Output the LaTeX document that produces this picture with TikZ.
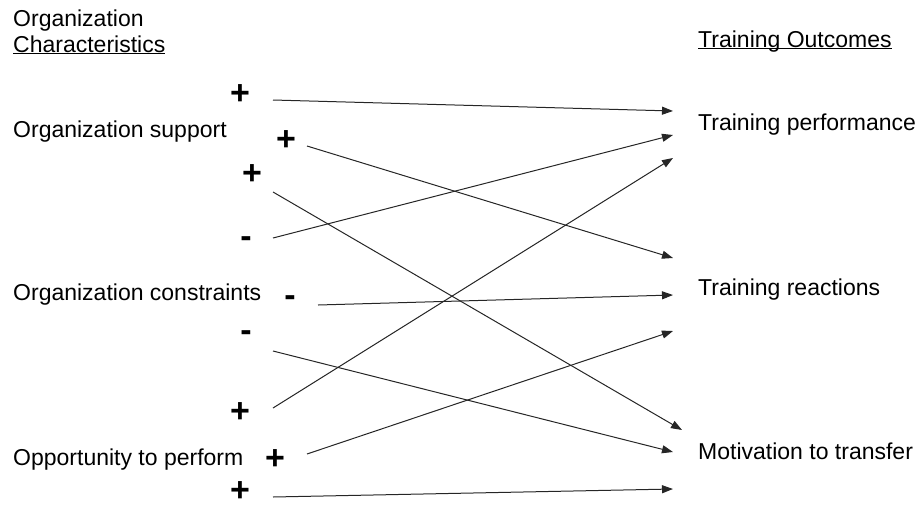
\documentclass[tikz,border=0pt]{standalone}
\usepackage{fontspec}
\setmainfont{Liberation Sans}
\usetikzlibrary{arrows.meta}
\providecommand{\uline}[1]{\underline{\smash{#1}}}

\begin{document}
\begin{tikzpicture}[
  x=1pt, y=-1pt,
  font=\fontsize{23}{26}\selectfont,
  lbl/.style={inner sep=0pt, anchor=base west, align=left},
  sign/.style={inner sep=0pt, font=\fontsize{34}{34}\selectfont\bfseries},
  flow/.style={-{Triangle[length=11pt, width=8pt]}, line width=1pt, black!85},
]
\useasboundingbox (0,0) rectangle (916,507);

% ---- headings -----------------------------------------------------------
\node[lbl] (orghead) at (13, 52) {Organization\\\uline{Characteristics}};
\node[lbl] (outhead) at (698, 47) {\uline{Training Outcomes}};

% ---- organization characteristics ---------------------------------------
\node[lbl] (support)     at (13, 137) {Organization support};
\node[lbl] (constraints) at (13, 300) {Organization constraints};
\node[lbl] (opportunity) at (13, 465) {Opportunity to perform};

% ---- training outcomes --------------------------------------------------
\node[lbl] (performance) at (698, 130) {Training performance};
\node[lbl] (reactions)   at (698, 295) {Training reactions};
\node[lbl] (motivation)  at (698, 459) {Motivation to transfer};

% ---- signs --------------------------------------------------------------
\node[sign] (supA) at (240, 95)  {+};
\node[sign] (supB) at (286, 141) {+};
\node[sign] (supC) at (252, 175) {+};
\node[sign] (conA) at (246, 242) {-};
\node[sign] (conB) at (290, 301) {-};
\node[sign] (conC) at (246, 336) {-};
\node[sign] (oppA) at (240, 413) {+};
\node[sign] (oppB) at (275, 460) {+};
\node[sign] (oppC) at (240, 492) {+};

% ---- arrow ends ---------------------------------------------------------
\coordinate (supA-s) at (273, 100);
\coordinate (supB-s) at (307, 146);
\coordinate (supC-s) at (273, 192);
\coordinate (conA-s) at (273, 238);
\coordinate (conB-s) at (318, 305);
\coordinate (conC-s) at (273, 351);
\coordinate (oppA-s) at (273, 408);
\coordinate (oppB-s) at (307, 454);
\coordinate (oppC-s) at (273, 497);

\coordinate (perfA) at (673, 111);
\coordinate (perfB) at (673, 135);
\coordinate (perfC) at (673, 158);
\coordinate (reacA) at (673, 258);
\coordinate (reacB) at (673, 295);
\coordinate (reacC) at (673, 331);
\coordinate (motA)  at (682, 430);
\coordinate (motB)  at (673, 452);
\coordinate (motC)  at (673, 489);

% ---- effects ------------------------------------------------------------
\draw[flow] (supA-s) -- (perfA);
\draw[flow] (supB-s) -- (reacA);
\draw[flow] (supC-s) -- (motA);
\draw[flow] (conA-s) -- (perfB);
\draw[flow] (conB-s) -- (reacB);
\draw[flow] (conC-s) -- (motB);
\draw[flow] (oppA-s) -- (perfC);
\draw[flow] (oppB-s) -- (reacC);
\draw[flow] (oppC-s) -- (motC);

\end{tikzpicture}
\end{document}
